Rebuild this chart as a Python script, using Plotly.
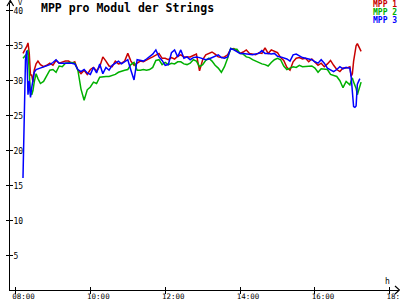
import plotly.graph_objects as go

# ---------------- data ----------------
times = ("08:12 08:14 08:16 08:18 08:20 08:22 08:24 08:26 08:28 08:30 08:33 08:36 08:40 "
         "08:45 08:50 08:55 "
         "09:00 09:05 09:10 09:15 09:20 09:25 09:30 09:35 09:40 09:45 09:50 09:55 "
         "10:00 10:05 10:10 10:15 10:20 10:25 10:30 10:35 10:40 10:45 10:50 10:55 "
         "11:00 11:05 11:10 11:15 11:20 11:25 11:30 11:35 11:40 11:45 11:50 11:55 "
         "12:00 12:05 12:10 12:15 12:20 12:25 12:30 12:35 12:40 12:45 12:50 12:55 "
         "13:00 13:05 13:10 13:15 13:20 13:25 13:30 13:35 13:40 13:45 13:50 13:55 "
         "14:00 14:05 14:10 14:15 14:20 14:25 14:30 14:35 14:40 14:45 14:50 14:55 "
         "15:00 15:05 15:10 15:15 15:20 15:25 15:30 15:35 15:40 15:45 15:50 15:55 "
         "16:00 16:05 16:10 16:15 16:20 16:25 16:30 16:35 16:40 16:45 16:50 "
         "16:53 16:56 16:58 17:00 17:02 17:04 17:06 17:08 17:10 17:12 17:14").split()

mpp1 = [33.9, 34.2, 34.5, 34.9, 35.4, 34.0, 30.8, 30.8, 29.8, 31.5, 32.4, 32.8, 32.3,
        32.0, 32.2, 32.5,
        32.2, 32.9, 32.5, 32.7, 32.8, 32.8, 32.5, 32.7, 31.5, 31.0, 31.5, 30.9,
        31.6, 31.9, 31.4, 32.0, 33.4, 32.8, 32.1, 32.0, 32.8, 32.4, 32.5, 32.8,
        33.9, 32.8, 32.2, 32.5, 32.8, 32.7, 33.0, 33.2, 33.4, 33.7, 33.9, 33.2,
        33.2, 33.0, 33.3, 33.1, 33.5, 33.7, 33.4, 33.4, 33.4, 33.6, 33.8, 31.4,
        33.0, 33.7, 33.9, 34.1, 33.8, 33.4, 33.3, 33.4, 33.7, 34.5, 34.6, 34.3,
        33.9, 34.1, 34.4, 33.9, 33.8, 33.7, 34.0, 33.9, 34.7, 33.9, 34.4, 34.2,
        34.0, 33.3, 32.9, 31.9, 31.5, 32.7, 33.2, 33.3, 33.1, 33.2, 32.7, 33.1,
        32.7, 32.2, 32.5, 32.0, 32.4, 32.9, 32.2, 31.6, 31.3, 31.8, 31.8,
        31.9, 32.0, 30.6, 31.0, 32.8, 34.2, 35.0, 35.3, 35.0, 34.7, 34.2]

mpp2 = [33.2, 33.4, 33.6, 33.8, 34.4, 31.0, 28.2, 28.0, 28.6, 29.8, 31.0, 30.3, 29.6,
        29.9, 30.8, 31.5,
        31.6, 31.2, 32.1, 32.0, 32.5, 32.6, 32.6, 32.5, 31.5, 28.8, 27.2, 28.7,
        29.1, 29.8, 29.6, 30.5, 30.6, 30.6, 30.6, 30.7, 30.9, 31.2, 31.4, 31.5,
        31.6, 32.3, 32.6, 31.5, 31.5, 31.6, 31.5, 31.6, 31.9, 32.9, 33.0, 32.3,
        32.6, 32.3, 32.5, 32.4, 32.7, 32.7, 32.4, 32.3, 32.5, 33.0, 32.8, 32.0,
        32.3, 32.9, 33.2, 32.8, 32.2, 31.8, 31.2, 32.0, 33.2, 34.6, 34.5, 34.5,
        33.9, 33.8, 33.4, 33.3, 33.0, 32.8, 32.5, 32.4, 32.3, 32.1, 32.6, 33.0,
        33.2, 33.0, 32.1, 31.6, 31.8, 32.0, 31.9, 32.2, 32.0, 32.0, 32.0, 32.1,
        31.8, 31.2, 31.7, 31.6, 31.6, 30.9, 30.7, 30.6, 30.0, 29.0, 29.9,
        29.7, 29.4, 30.0, 30.4, 29.8, 29.3, 28.9, 28.0, 28.7, 29.3, 29.8]

mpp3 = [16.1, 23.0, 33.0, 34.3, 28.0, 30.0, 27.6, 29.0, 30.2, 31.2, 31.6, 31.7, 31.9,
        32.0, 32.2, 32.3,
        32.6, 33.0, 32.5, 32.5, 32.6, 32.6, 32.5, 32.4, 31.6, 31.3, 31.6, 31.1,
        30.9, 31.9, 31.1, 32.4, 31.0, 31.9, 31.5, 32.2, 32.5, 32.8, 32.4, 32.7,
        33.0, 31.5, 30.1, 33.0, 32.9, 32.8, 33.1, 33.4, 33.8, 34.4, 33.4, 32.9,
        32.2, 32.3, 34.0, 34.4, 33.4, 34.4, 33.2, 33.4, 33.0, 33.3, 33.4, 33.3,
        33.2, 33.0, 33.1, 33.3, 33.5, 33.7, 33.3, 33.2, 33.4, 34.6, 34.4, 34.1,
        33.9, 33.9, 33.8, 33.7, 33.7, 33.8, 33.9, 34.3, 33.9, 33.9, 33.8, 33.9,
        33.5, 33.4, 33.3, 33.1, 32.8, 33.7, 33.8, 33.5, 33.3, 33.2, 33.1, 33.0,
        32.7, 32.5, 33.0, 32.5, 31.8, 31.5, 31.3, 31.6, 32.0, 31.7, 31.9,
        31.8, 31.8, 30.6, 28.5, 26.3, 26.2, 26.4, 29.5, 29.9, 30.3, None]

series_names = ["MPP 1", "MPP 2", "MPP 3"]
series_colors = ["#c80000", "#00b000", "#0000ff"]
x_tick_hours = [8, 10, 12, 14, 16, 18]
x_tick_text = ["08:00", "10:00", "12:00", "14:00", "16:00", "18:00"]
y_ticks = [5, 10, 15, 20, 25, 30, 35, 40]
title_text = "MPP pro Modul der Strings"

# ---------------- figure ----------------
def to_hours(s):
    h, m = s.split(":")
    return int(h) + int(m) / 60.0

xh = [to_hours(t) for t in times]

W, H = 400, 300
ML, MR, MT, MB = 10, 1, 3, 10
PW, PH = W - ML - MR, H - MT - MB

def px(xp):
    return (xp - ML) / PW

def py(yp):
    return (H - MB - yp) / PH

xrange_ = [7.853, 18.246]
yrange_ = [0.1, 41.1]

fig = go.Figure()
for vals, name, col in zip([mpp1, mpp2, mpp3], series_names, series_colors):
    fig.add_trace(go.Scatter(x=xh, y=vals, mode="lines", name=name,
                             line=dict(color=col, width=1.5), connectgaps=False,
                             hoverinfo="skip"))
# dummy trace for overlay axes (second half of the crossing tick marks)
fig.add_trace(go.Scatter(x=[None], y=[None], xaxis="x2", yaxis="y2",
                         showlegend=False, hoverinfo="skip"))

tickfont = dict(family="DejaVu Sans Mono", size=8, color="black")
fig.update_layout(
    width=W, height=H,
    margin=dict(l=ML, r=MR, t=MT, b=MB, pad=0, autoexpand=False),
    paper_bgcolor="white", plot_bgcolor="white",
    showlegend=False,
    xaxis=dict(range=xrange_, tickvals=x_tick_hours, ticktext=x_tick_text,
               showline=True, linecolor="black", linewidth=1.3,
               ticks="inside", ticklen=3, tickcolor="black", tickwidth=1.3,
               tickfont=dict(family="DejaVu Sans Mono", size=7.5, color="black"),
               ticklabelshift=8, ticklabelstandoff=-1,
               ticklabeloverflow="allow", automargin=False,
               showgrid=False, zeroline=False, fixedrange=True),
    yaxis=dict(range=yrange_, tickvals=y_ticks,
               showline=True, linecolor="black", linewidth=1.3,
               ticks="outside", ticklen=3, tickcolor="black", tickwidth=1.3,
               tickfont=tickfont, ticklabelposition="inside", ticklabelstandoff=2,
               ticklabeloverflow="allow", automargin=False,
               showgrid=False, zeroline=False, fixedrange=True),
    xaxis2=dict(range=xrange_, tickvals=x_tick_hours, overlaying="x", anchor="y2",
                ticks="outside", ticklen=3, tickcolor="black", tickwidth=1.3, automargin=False,
                showticklabels=False, showline=False, showgrid=False, zeroline=False),
    yaxis2=dict(range=yrange_, tickvals=y_ticks, overlaying="y", anchor="x2",
                ticks="inside", ticklen=3, tickcolor="black", tickwidth=1.3, automargin=False,
                showticklabels=False, showline=False, showgrid=False, zeroline=False),
)

annots = [
    dict(text="<b>" + title_text + "</b>", x=px(40), y=py(8.5), xanchor="left", yanchor="middle",
         font=dict(family="DejaVu Sans Mono", size=11.5, color="black")),
    dict(text="V", x=px(17), y=py(3), xanchor="left", yanchor="middle",
         font=dict(family="DejaVu Sans Mono", size=7, color="black")),
    dict(text="h", x=px(384), y=py(281), xanchor="left", yanchor="middle",
         font=dict(family="DejaVu Sans Mono", size=8, color="black")),
]
for i, (name, col) in enumerate(zip(series_names, series_colors)):
    annots.append(dict(text="<b>" + name + "</b>", x=px(398), y=py(4.5 + 8.1 * i),
                       xanchor="right", yanchor="middle",
                       font=dict(family="DejaVu Sans Mono", size=8, color=col)))
for a in annots:
    a.update(xref="paper", yref="paper", showarrow=False, borderpad=0)
fig.update_layout(annotations=annots)

def path(points):
    return "M " + " L ".join(f"{px(a)},{py(b)}" for a, b in points)

fig.update_layout(shapes=[
    dict(type="path", xref="paper", yref="paper", path=path([(7, 6), (10.3, 0.5), (13.6, 6)]),
         line=dict(color="black", width=1.2)),
    dict(type="line", xref="paper", yref="paper", x0=px(10.3), x1=px(10.3), y0=py(3), y1=py(0.5),
         line=dict(color="black", width=1.3)),
    dict(type="path", xref="paper", yref="paper", path=path([(395, 286), (399.5, 290), (395, 294)]),
         line=dict(color="black", width=1.2)),
])

fig.write_html("out.html")
